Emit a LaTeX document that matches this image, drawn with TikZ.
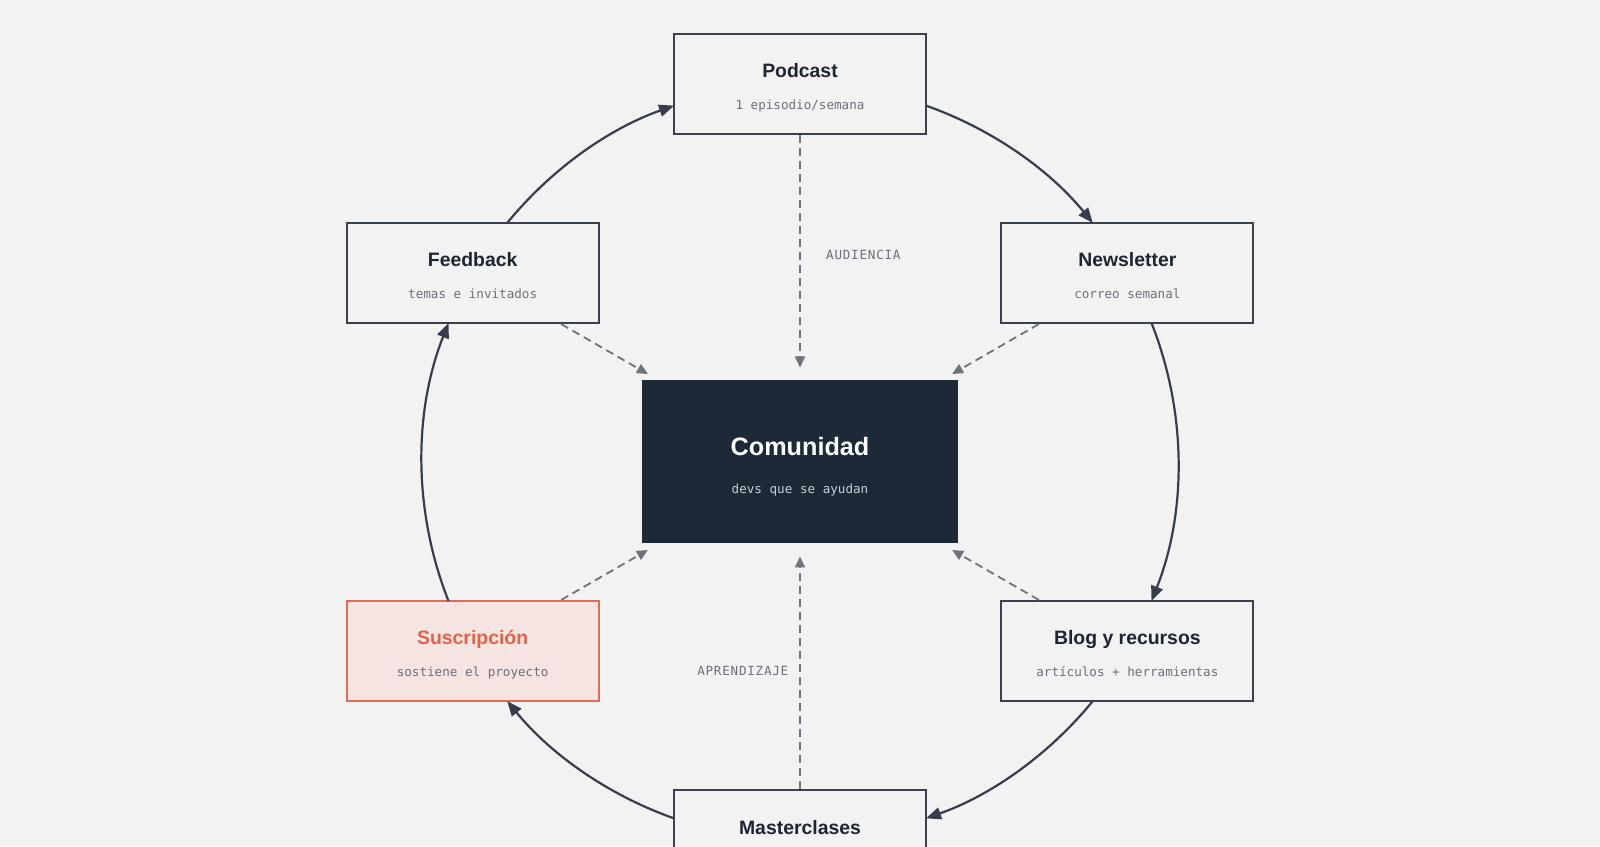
\documentclass[tikz,border=0pt]{standalone}
\usepackage{fontspec}
\setmainfont{Liberation Sans}
\newfontfamily\monof{DejaVu Sans Mono}
\newfontfamily\monols[LetterSpace=6]{DejaVu Sans Mono}
\usetikzlibrary{arrows.meta,calc}
\definecolor{bgc}{HTML}{F2F2F2}
\definecolor{boxline}{HTML}{3A404C}
\definecolor{titlec}{HTML}{1E2532}
\definecolor{subc}{HTML}{6B7079}
\definecolor{darkfill}{HTML}{1E2937}
\definecolor{darksub}{HTML}{C9CDD3}
\definecolor{arrowc}{HTML}{373D4A}
\definecolor{dashc}{HTML}{6E737C}
\definecolor{suscfill}{HTML}{F5E4E2}
\definecolor{suscline}{HTML}{E26D55}
\definecolor{susctext}{HTML}{E0644A}
\begin{document}
\begin{tikzpicture}[x=1pt,y=1pt,
  cyclebox/.style={draw=boxline, line width=2.2pt, fill=bgc, minimum width=252pt, minimum height=100pt, inner sep=0pt},
  hubbox/.style={draw=darkfill, line width=1pt, fill=darkfill, minimum width=315pt, minimum height=162pt, inner sep=0pt},
  ttl/.style={anchor=base, inner sep=0pt, text=titlec, font=\bfseries\fontsize{19.4}{22}\selectfont},
  subt/.style={anchor=base, inner sep=0pt, text=subc, font=\monof\fontsize{12.6}{15}\selectfont},
  flow/.style={draw=arrowc, line width=2.2pt, -{Triangle[length=15pt,width=12pt]}},
  feed/.style={draw=dashc, line width=1.8pt, dash pattern=on 8pt off 5pt, -{Triangle[length=11pt,width=10pt]}, shorten >=13pt},
  edgelbl/.style={inner sep=0pt, text=subc, font=\monols\fontsize{12.6}{15}\selectfont}
]
\clip (0,0) rectangle (1600,846);
\fill[bgc] (0,0) rectangle (1600,846);

% hub
\node[hubbox] (com) at (800,384) {};
\node[anchor=base, inner sep=0pt, text=white, font=\bfseries\fontsize{25.2}{28}\selectfont] (comt) at ([yshift=6.7pt]com.center) {Comunidad};
\node[anchor=base, inner sep=0pt, text=darksub, font=\monof\fontsize{12.6}{15}\selectfont] (coms) at ([yshift=-31.6pt]com.center) {devs que se ayudan};

% cycle boxes
\node[cyclebox] (podcast) at ($(com.center)+(90:378)$) {};
\node[cyclebox] (newsletter) at ($(com.center)+(30:378)$) {};
\node[cyclebox] (blog) at ($(com.center)+(-30:378)$) {};
\node[cyclebox] (master) at ($(com.center)+(-90:378)$) {};
\node[cyclebox, draw=suscline, fill=suscfill] (susc) at ($(com.center)+(210:378)$) {};
\node[cyclebox] (feedback) at ($(com.center)+(150:378)$) {};

\node[ttl] (podcastt) at ([yshift=6pt]podcast.center) {Podcast};
\node[subt] (podcasts) at ([yshift=-25.5pt]podcast.center) {1 episodio/semana};
\node[ttl] (newslettert) at ([yshift=6pt]newsletter.center) {Newsletter};
\node[subt] (newsletters) at ([yshift=-25.5pt]newsletter.center) {correo semanal};
\node[ttl] (blogt) at ([yshift=6pt]blog.center) {Blog y recursos};
\node[subt] (blogs) at ([yshift=-25.5pt]blog.center) {artículos + herramientas};
\node[ttl] (mastert) at ([yshift=6pt]master.center) {Masterclases};
\node[ttl, text=susctext] (susct) at ([yshift=6pt]susc.center) {Suscripción};
\node[subt] (suscs) at ([yshift=-25.5pt]susc.center) {sostiene el proyecto};
\node[ttl] (feedbackt) at ([yshift=6pt]feedback.center) {Feedback};
\node[subt] (feedbacks) at ([yshift=-25.5pt]feedback.center) {temas e invitados};

% cycle arrows (arcs of the circle through the box centres)
\draw[flow] ($(com.center)+(70.53:378)$) arc[start angle=70.53, end angle=39.23, radius=378];
\draw[flow] ($(com.center)+(21.58:378)$) arc[start angle=21.58, end angle=-21.58, radius=378];
\draw[flow] ($(com.center)+(-39.23:378)$) arc[start angle=-39.23, end angle=-70.53, radius=378];
\draw[flow] ($(com.center)+(-109.47:378)$) arc[start angle=-109.47, end angle=-140.77, radius=378];
\draw[flow] ($(com.center)+(201.58:378)$) arc[start angle=201.58, end angle=158.42, radius=378];
\draw[flow] ($(com.center)+(140.77:378)$) arc[start angle=140.77, end angle=109.47, radius=378];

% dashed feeds into the hub
\draw[feed] (podcast) -- (com);
\draw[feed] (newsletter) -- (com);
\draw[feed] (blog) -- (com);
\draw[feed] (master) -- (com);
\draw[feed] (susc) -- (com);
\draw[feed] (feedback) -- (com);

\node[edgelbl, anchor=base west] (aud) at (826,586) {AUDIENCIA};
\node[edgelbl, anchor=base east] (apr) at (788.5,170.3) {APRENDIZAJE};
\end{tikzpicture}
\end{document}
